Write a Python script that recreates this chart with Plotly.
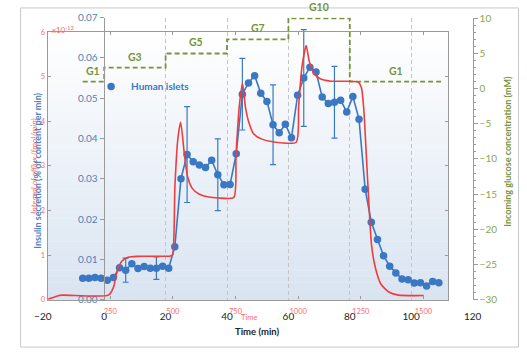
import plotly.graph_objects as go

# ---------------- data ----------------
time_min = [-7, -5, -3, -1, 1, 3, 5, 7, 9, 11, 13, 15, 17, 19, 21, 23, 25, 27, 29, 31,
            33, 35, 37, 39, 41, 43, 45, 47, 49, 51, 53, 55, 57, 59, 61, 63, 65, 67, 69, 71,
            73, 75, 77, 79, 81, 83, 85, 87, 89, 91, 93, 95, 97, 99, 101, 103, 105, 107, 109]
secretion = [0.0053, 0.0053, 0.0055, 0.0053, 0.0048, 0.0055, 0.0079, 0.0073, 0.0089, 0.0077,
             0.0082, 0.0078, 0.0078, 0.0083, 0.0078, 0.0131, 0.0300, 0.0360, 0.0342, 0.0334,
             0.0328, 0.0346, 0.0310, 0.0285, 0.0286, 0.0362, 0.0510, 0.0538, 0.0556, 0.0512,
             0.0492, 0.0434, 0.0414, 0.0435, 0.0402, 0.0507, 0.0550, 0.0577, 0.0565, 0.0503,
             0.0487, 0.0490, 0.0495, 0.0466, 0.0504, 0.0448, 0.0274, 0.0192, 0.0149, 0.0109,
             0.0083, 0.0066, 0.0051, 0.0049, 0.0041, 0.0042, 0.0034, 0.0045, 0.0042]
error_times = [7, 17, 27, 37, 45, 55, 65, 75]
error_sizes = [0.0030, 0.0028, 0.0119, 0.0089, 0.0089, 0.0099, 0.0120, 0.0089]

model_time = [0, 19, 39, 58, 243, 263, 276, 296, 321, 360, 491, 499, 508, 520, 531, 546, 559,
              578, 604, 643, 681, 743, 752, 765, 778, 790, 803, 822, 855, 899, 992, 1002,
              1015, 1032, 1044, 1060, 1086, 1131, 1240, 1253, 1262, 1272, 1283, 1293, 1308,
              1330, 1362, 1401, 1501]
model_value = [0.0, 0.04, 0.08, 0.10, 0.10, 0.28, 0.61, 0.86, 0.95, 0.97, 0.98, 1.01, 2.53,
               3.62, 3.98, 3.25, 2.75, 2.49, 2.37, 2.30, 2.28, 2.29, 3.25, 4.34, 4.85, 4.30,
               3.98, 3.72, 3.60, 3.54, 3.53, 4.34, 5.21, 5.70, 5.35, 5.10, 4.96, 4.90, 4.88,
               4.74, 4.27, 3.25, 2.09, 1.22, 0.72, 0.35, 0.17, 0.10, 0.09]

glc_time = [-7, 0, 20, 40, 60, 80, 110]
glc_level = [1, 3, 5, 7, 10, 1, 1]
glc_labels = ["G1", "G3", "G5", "G7", "G10", "G1"]

x_ticks = [-20, 0, 20, 40, 60, 80, 100, 120]
y_ticks = [0.00, 0.01, 0.02, 0.03, 0.04, 0.05, 0.06, 0.07]
glc_ticks = [10, 5, 0, -5, -10, -15, -20, -25, -30]
model_x_ticks = [250, 500, 750, 1000, 1250, 1500]
model_y_ticks = [0, 1, 2, 3, 4, 5, 6]

# ---------------- styling ----------------
W, H = 527, 354
FONT = "Lato"
BLUE = "#3a78c4"
BLUE_TXT = "#4f81bd"
GREEN = "#77933c"
RED = "#f03c3c"
RED_TXT = "#ff6b6b"
GRID = "#c4c4c4"
AXLINE = "#9a9a9a"

def px_x(p):
    return p / W

def px_y(p):
    return (H - p) / H

outer_x_dom = [px_x(35), px_x(480)]
outer_y_dom = [px_y(303), px_y(12)]
inner_x_dom = [px_x(40), px_x(455)]
inner_y_dom = [px_y(303), px_y(27)]

fig = go.Figure()

# blue line (no legend)
fig.add_trace(go.Scatter(x=time_min, y=secretion, mode="lines",
                         line=dict(color=BLUE, width=1.6), showlegend=False,
                         xaxis="x", yaxis="y", hoverinfo="skip"))
# blue markers with error bars
err_arr = [error_sizes[error_times.index(t)] if t in error_times else None for t in time_min]
fig.add_trace(go.Scatter(x=time_min, y=secretion, mode="markers",
                         marker=dict(color=BLUE, size=7.5),
                         error_y=dict(type="data", array=err_arr, color=BLUE,
                                      thickness=1.2, width=3),
                         name="<b>Human islets</b>", showlegend=True,
                         xaxis="x", yaxis="y"))
# glucose steps
fig.add_trace(go.Scatter(x=glc_time, y=glc_level, mode="lines",
                         line=dict(color=GREEN, width=1.8, dash="5px,3px", shape="hv"),
                         showlegend=False, xaxis="x", yaxis="y2"))
# model curve
fig.add_trace(go.Scatter(x=model_time, y=model_value, mode="lines",
                         line=dict(color=RED, width=1.6, shape="spline", smoothing=0.6),
                         showlegend=False, xaxis="x2", yaxis="y3"))

# ---------------- shapes ----------------
shapes = []
n = 46
top, bot = 27, 303
c0 = (255, 255, 255)
c1 = (217, 228, 241)
for i in range(n):
    f = (i + 0.5) / n
    col = tuple(round(c0[k] + (c1[k] - c0[k]) * f) for k in range(3))
    y0p = top + (bot - top) * i / n
    y1p = top + (bot - top) * (i + 1) / n
    shapes.append(dict(type="rect", xref="paper", yref="paper",
                       x0=px_x(40), x1=px_x(455), y0=px_y(y1p) - 0.001, y1=px_y(y0p),
                       fillcolor="rgb(%d,%d,%d)" % col, line=dict(width=0), layer="below"))
# outer frame
shapes.append(dict(type="rect", xref="paper", yref="paper",
                   x0=px_x(12), x1=px_x(527.5), y0=px_y(352), y1=px_y(2),
                   line=dict(color="#c8c8c8", width=1), layer="below"))

# ---------------- annotations ----------------
def note(x, y, text, color, size, angle=0, xanchor="center"):
    return dict(x=px_x(x), y=px_y(y), xref="paper", yref="paper", xanchor=xanchor,
                yanchor="middle", textangle=angle, text=text, showarrow=False,
                font=dict(color=color, size=size, family=FONT))

ann = []
for i, lab in enumerate(glc_labels):
    xm = (glc_time[i] + glc_time[i + 1]) / 2
    ann.append(dict(x=xm, y=glc_level[i], xref="x", yref="y2", text="<b>%s</b>" % lab,
                    xanchor="center", yanchor="middle",
                    showarrow=False, yshift=11, font=dict(color=GREEN, size=10.5, family=FONT)))
ann.append(note(42, 24, "x10<sup>-13</sup>", RED_TXT, 8, xanchor="left"))
ann.append(note(26, 165, "<i>Integral of efflux (fmol/min)</i>", RED_TXT, 8.5, angle=-90))
ann.append(note(30, 170, "<b>Insulin secretion (% of content per min)</b>", BLUE_TXT, 9, angle=-90))
ann.append(note(516, 150, "<b>Incoming glucose concentration (mM)</b>", GREEN, 9, angle=-90))
ann.append(note(257, 336, "<b>Time (min)</b>", "#222222", 9.5))
ann.append(note(248, 322, "Time", RED_TXT, 7.5))

fig.update_layout(
    width=W, height=H, margin=dict(l=0, r=0, t=0, b=0),
    paper_bgcolor="white", plot_bgcolor="rgba(0,0,0,0)",
    font=dict(family=FONT, size=10),
    shapes=shapes, annotations=ann,
    legend=dict(x=px_x(85), y=px_y(83), xanchor="left", yanchor="middle",
                bgcolor="rgba(0,0,0,0)", font=dict(color=BLUE, size=10, family=FONT),
                itemwidth=30),
    xaxis=dict(domain=outer_x_dom, range=[-20, 120], tickvals=x_ticks,
               showgrid=True, gridcolor=GRID, griddash="4px,3px", gridwidth=1,
               zeroline=False, showline=False, ticks="", anchor="y",
               tickfont=dict(color="#222222", size=10), ticklabelstandoff=9),
    yaxis=dict(domain=outer_y_dom, range=[0, 0.07], tickvals=y_ticks,
               tickformat=".2f", anchor="free", position=px_x(98),
               showgrid=False, zeroline=False, showline=True, linecolor=AXLINE,
               ticks="outside", ticklen=4, tickcolor=AXLINE,
               tickfont=dict(color=BLUE_TXT, size=10)),
    yaxis2=dict(overlaying="y", side="right", range=[-30, 10.1], tickvals=glc_ticks,
                anchor="x", showgrid=False, zeroline=False, showline=True,
                linecolor=AXLINE, ticks="outside", ticklen=4, tickcolor=AXLINE,
                minor=dict(ticks="outside", ticklen=2, dtick=1, tickcolor=AXLINE),
                tickfont=dict(color="#8aa84c", size=10)),
    xaxis2=dict(domain=inner_x_dom, range=[0, 1600], tickvals=model_x_ticks,
                anchor="y3", showgrid=False, zeroline=False, showline=True, mirror="ticks",
                linecolor=AXLINE, linewidth=1.2, ticks="inside", ticklen=3, tickcolor=AXLINE,
                tickfont=dict(color=RED_TXT, size=7.5), ticklabelstandoff=4),
    yaxis3=dict(domain=inner_y_dom, range=[0, 6], tickvals=model_y_ticks,
                anchor="x2", showgrid=False, zeroline=False, showline=True, mirror="ticks",
                linecolor=AXLINE, linewidth=1.2, ticks="inside", ticklen=3, tickcolor=AXLINE,
                tickfont=dict(color=RED_TXT, size=7.5), ticklabelstandoff=0),
)

fig.write_html("out.html")
